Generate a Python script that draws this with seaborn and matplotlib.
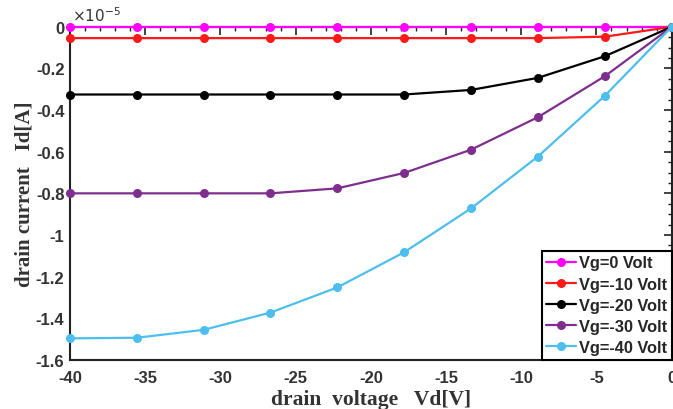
import numpy as np
import pandas as pd
import matplotlib
matplotlib.use("Agg")
import matplotlib.pyplot as plt
from matplotlib.ticker import MultipleLocator, FuncFormatter
import seaborn as sns

# drain voltage points (V)
vd = [-40, -35.56, -31.11, -26.67, -22.22, -17.78, -13.33, -8.89, -4.44, 0]
# drain current in units of 1e-5 A
id_vg0 = [0, 0, 0, 0, 0, 0, 0, 0, 0, 0]
id_vg10 = [-0.054, -0.054, -0.054, -0.054, -0.054, -0.054, -0.054, -0.054, -0.047, 0]
id_vg20 = [-0.325, -0.325, -0.325, -0.325, -0.325, -0.325, -0.303, -0.245, -0.141, 0]
id_vg30 = [-0.80, -0.80, -0.80, -0.80, -0.776, -0.702, -0.59, -0.434, -0.237, 0]
id_vg40 = [-1.497, -1.494, -1.456, -1.373, -1.252, -1.083, -0.872, -0.623, -0.331, 0]
labels = ["Vg=0 Volt", "Vg=-10 Volt", "Vg=-20 Volt", "Vg=-30 Volt", "Vg=-40 Volt"]
colors = ["#ff00ff", "#ff1a1a", "#000000", "#7e2f8e", "#4dbeee"]

series = [id_vg0, id_vg10, id_vg20, id_vg30, id_vg40]
df = pd.concat([pd.DataFrame({"Vd": vd, "Id": s, "Vg": lab}) for s, lab in zip(series, labels)],
               ignore_index=True)

sns.set_style("white")
plt.rcParams["axes.unicode_minus"] = False

fig = plt.figure(figsize=(6.73, 4.10), dpi=100)
ax = fig.add_axes([0.104, 0.12, 0.894, 0.812])

sns.lineplot(data=df, x="Vd", y="Id", hue="Vg", hue_order=labels,
             palette=dict(zip(labels, colors)), marker="o", markersize=6.5,
             markeredgewidth=0, linewidth=1.6, ax=ax, sort=False)
for ln in ax.lines:
    ln.set_clip_on(False)

ax.set_xlim(-40, 0)
ax.set_ylim(-1.6, 0)
ax.xaxis.set_major_locator(MultipleLocator(5))
ax.xaxis.set_minor_locator(MultipleLocator(1))
ax.yaxis.set_major_locator(MultipleLocator(0.2))
ax.yaxis.set_minor_locator(MultipleLocator(0.05))
fmt = FuncFormatter(lambda v, p: "%g" % round(v, 6))
ax.xaxis.set_major_formatter(fmt)
ax.yaxis.set_major_formatter(fmt)

ax.tick_params(which="both", direction="in", top=True, right=True, color="#222222")
ax.tick_params(which="major", length=6, width=1.2)
ax.tick_params(which="minor", length=3, width=1.0)
for lab in ax.get_xticklabels() + ax.get_yticklabels():
    lab.set_fontfamily("Liberation Sans")
    lab.set_fontweight("bold")
    lab.set_fontsize(12)
    lab.set_color("#333333")
ax.tick_params(axis="x", pad=7)
ax.tick_params(axis="y", pad=4)

for sp in ax.spines.values():
    sp.set_visible(True)
    sp.set_color("#222222")
    sp.set_linewidth(1.5)
    sp.set_zorder(1)

ax.set_xlabel("drain  voltage   Vd[V]", fontfamily="Liberation Serif", fontweight="bold",
              fontsize=15.5, color="#333333", labelpad=3)
ax.set_ylabel("drain current   Id[A]", fontfamily="Liberation Serif", fontweight="bold",
              fontsize=15, color="#333333", labelpad=1)

ax.text(0.003, 1.008, r"$\times10^{-5}$", transform=ax.transAxes, fontsize=11,
        color="#333333", ha="left", va="bottom", fontfamily="Liberation Sans")

leg = ax.legend(loc="lower right", frameon=True, fancybox=False, framealpha=1,
                edgecolor="black", borderaxespad=0.0, handlelength=1.8,
                handletextpad=0.2, labelspacing=0.38, borderpad=0.28,
                prop={"family": "Liberation Sans", "weight": "bold", "size": 11.8})
leg.get_frame().set_linewidth(1.5)
leg.set_title(None)

fig.savefig("out.png", dpi=100)
